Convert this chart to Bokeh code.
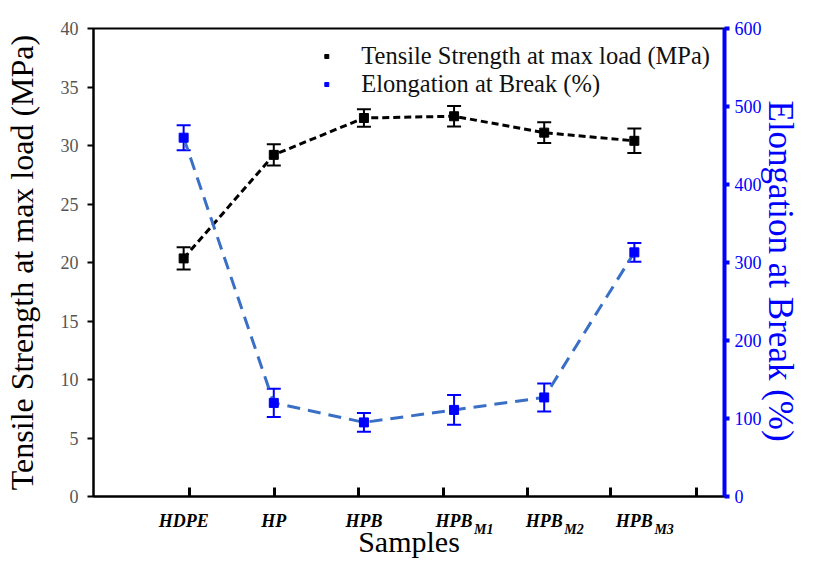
from bokeh.plotting import figure
from bokeh.models import (ColumnDataSource, LinearAxis, Range1d, FixedTicker, Whisker,
                          TeeHead, Legend, LegendItem, Title)
from bokeh.embed import file_html
from bokeh.resources import INLINE

# ---- data ----
sample_names = ["HDPE", "HP", "HPB", "HPB", "HPB", "HPB"]
sample_subs = ["", "", "", "M1", "M2", "M3"]
sample_x = [1, 2, 3, 4, 5, 6]
tensile = [20.35, 29.2, 32.35, 32.5, 31.1, 30.4]
tensile_err = [0.95, 0.9, 0.75, 0.88, 0.88, 1.05]
elong = [460, 120, 95, 111, 127, 313]
elong_err = [16, 18, 12, 19, 18, 12]
left_ticks = [0, 5, 10, 15, 20, 25, 30, 35, 40]
right_ticks = [0, 100, 200, 300, 400, 500, 600]
bottom_ticks = [1.07, 2.01, 2.94, 3.88, 4.81, 5.74, 6.69]
SUB_SHIFT = 0.33  # subscript placement to the right of the category centre (x units)

src_t = ColumnDataSource(dict(x=sample_x, y=tensile,
                              lo=[v - e for v, e in zip(tensile, tensile_err)],
                              hi=[v + e for v, e in zip(tensile, tensile_err)]))
src_e = ColumnDataSource(dict(x=sample_x, y=elong,
                              lo=[v - e for v, e in zip(elong, elong_err)],
                              hi=[v + e for v, e in zip(elong, elong_err)]))

SERIF = "Liberation Serif"
BLUE = "#0000ff"

p = figure(width=800, height=560, output_backend="svg", toolbar_location=None,
           x_range=Range1d(0, 7), y_range=Range1d(0, 40), x_axis_location=None,
           min_border_left=89, min_border_right=76, min_border_top=28, min_border_bottom=64)
p.extra_y_ranges = {"elong": Range1d(0, 600)}
p.grid.visible = False
p.outline_line_color = "black"
p.outline_line_width = 2
p.background_fill_color = "white"
p.border_fill_color = "white"

# left axis
ya = p.yaxis[0]
ya.ticker = FixedTicker(ticks=left_ticks)
ya.minor_tick_line_color = None
ya.axis_line_width = 2
ya.major_tick_line_width = 2
ya.major_tick_out = 6
ya.major_tick_in = 0
ya.major_label_standoff = 9
ya.major_label_text_font = SERIF
ya.major_label_text_font_size = "18px"
ya.major_label_text_color = "#555555"
ya.axis_label = "Tensile Strength at max load (MPa)"
ya.axis_label_text_font = SERIF
ya.axis_label_text_font_style = "normal"
ya.axis_label_text_font_size = "32px"
ya.axis_label_text_color = "black"
ya.axis_label_standoff = 18

# bottom axis A: line and inward ticks, no labels
xa = LinearAxis(ticker=FixedTicker(ticks=bottom_ticks),
                major_label_overrides={t: "" for t in bottom_ticks})
xa.major_label_text_font_size = "1px"
xa.major_label_standoff = 0
xa.minor_tick_line_color = None
xa.axis_line_width = 2
xa.major_tick_line_width = 3
xa.major_tick_in = 9
xa.major_tick_out = 0
p.add_layout(xa, "below")

# bottom axis B: category names
xb = LinearAxis(ticker=FixedTicker(ticks=sample_x),
                major_label_overrides={x: n for x, n in zip(sample_x, sample_names)})
xb.axis_line_color = None
xb.major_tick_line_color = None
xb.minor_tick_line_color = None
xb.major_tick_out = 0
xb.major_tick_in = 0
xb.major_label_standoff = 14
xb.major_label_text_font = SERIF
xb.major_label_text_font_style = "bold italic"
xb.major_label_text_font_size = "18px"
xb.major_label_text_color = "black"
p.add_layout(xb, "below")

# bottom axis C: subscripts
sub_pos = [x + SUB_SHIFT for x, s in zip(sample_x, sample_subs) if s]
sub_txt = [s for s in sample_subs if s]
xc = LinearAxis(ticker=FixedTicker(ticks=sub_pos),
                major_label_overrides={x: s for x, s in zip(sub_pos, sub_txt)})
xc.axis_line_color = None
xc.major_tick_line_color = None
xc.minor_tick_line_color = None
xc.major_tick_out = 0
xc.major_tick_in = 0
xc.major_label_standoff = -12
xc.major_label_text_font = SERIF
xc.major_label_text_font_style = "bold italic"
xc.major_label_text_font_size = "14px"
xc.major_label_text_color = "black"
p.add_layout(xc, "below")

p.add_layout(Title(text="Samples", align="center", vertical_align="bottom", standoff=-34,
                   text_font=SERIF, text_font_style="normal", text_font_size="30px",
                   text_color="black"), "below")

# right axis
ra = LinearAxis(y_range_name="elong", ticker=FixedTicker(ticks=right_ticks))
ra.axis_line_color = BLUE
ra.axis_line_width = 4
ra.major_tick_line_color = BLUE
ra.major_tick_line_width = 4
ra.major_tick_out = 5
ra.major_tick_in = 0
ra.minor_tick_line_color = None
ra.major_label_standoff = 5
ra.major_label_text_font = SERIF
ra.major_label_text_font_size = "18px"
ra.major_label_text_color = BLUE
p.add_layout(ra, "right")

p.add_layout(Title(text="Elongation at Break (%)", align="left", offset=72,
                   vertical_align="bottom", standoff=-7,
                   text_font=SERIF, text_font_style="normal", text_font_size="35px",
                   text_color=BLUE), "right")

# tensile series
p.line("x", "y", source=src_t, line_color="black", line_width=3, line_dash="7 4")
p.add_layout(Whisker(base="x", lower="lo", upper="hi", source=src_t, line_color="black",
                     line_width=2,
                     lower_head=TeeHead(size=14, line_color="black", line_width=2),
                     upper_head=TeeHead(size=14, line_color="black", line_width=2)))
r_t = p.scatter("x", "y", source=src_t, marker="square", size=9, color="black")

# elongation series
p.line("x", "y", source=src_e, y_range_name="elong", line_color="#3a6fc6",
       line_width=3, line_dash="13 8")
p.add_layout(Whisker(base="x", lower="lo", upper="hi", source=src_e, y_range_name="elong",
                     line_color=BLUE, line_width=2,
                     lower_head=TeeHead(size=14, line_color=BLUE, line_width=2),
                     upper_head=TeeHead(size=14, line_color=BLUE, line_width=2)))
r_e = p.scatter("x", "y", source=src_e, y_range_name="elong", marker="square", size=9,
                color=BLUE)

# legend
leg = Legend(items=[LegendItem(label="Tensile Strength at max load (MPa)", renderers=[r_t]),
                    LegendItem(label="Elongation at Break (%)", renderers=[r_e])],
             location="top_right", margin=14, padding=0, spacing=-3,
             glyph_width=10, glyph_height=22, label_height=22, label_standoff=30,
             label_text_font=SERIF, label_text_font_size="24.5px", label_text_color="#111111",
             border_line_alpha=0, background_fill_alpha=0)
p.add_layout(leg)

open("out.html", "w").write(file_html(p, INLINE))
